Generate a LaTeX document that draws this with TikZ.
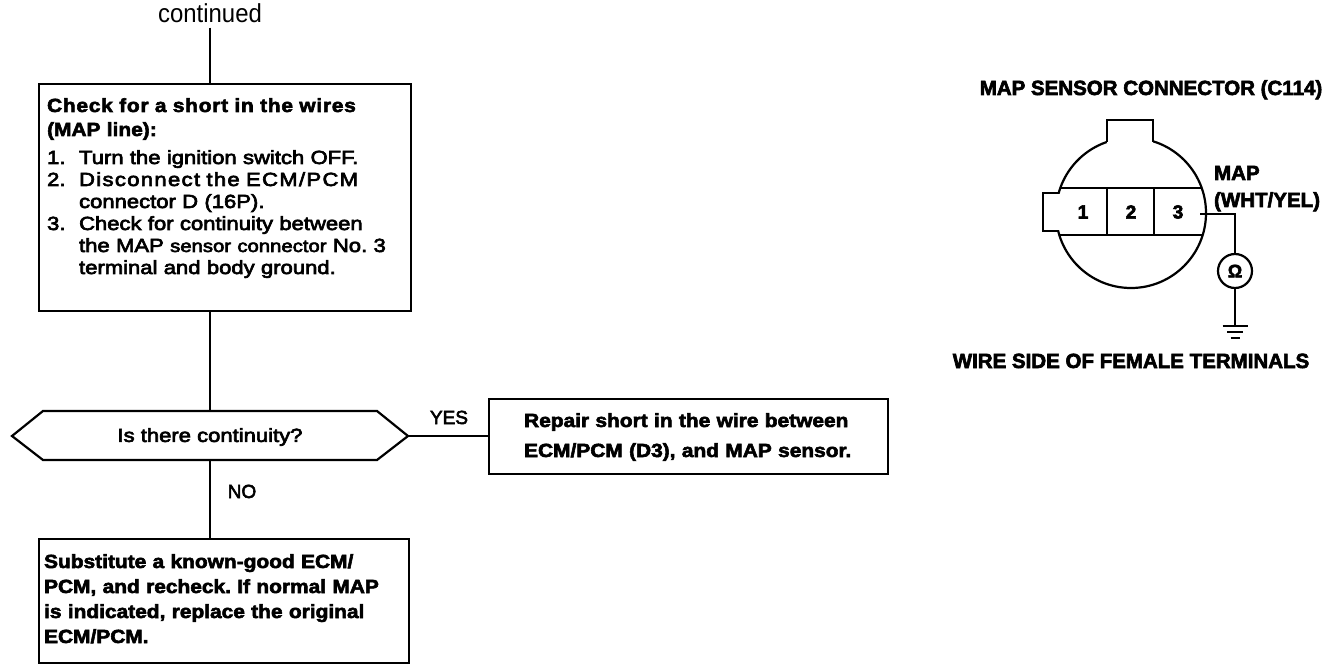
\documentclass[tikz,border=0pt]{standalone}
\usepackage{fontspec}
\setmainfont{Liberation Sans}
\newfontfamily\bbfont[FakeStretch=1.1,FakeBold=3]{Liberation Sans Bold}
\newfontfamily\mdfont[FakeStretch=1.16,FakeBold=3.5]{Liberation Sans}
\newfontfamily\ctfont[FakeStretch=0.92]{Liberation Sans}
\newfontfamily\lbfont[FakeBold=3]{Liberation Sans}
\newfontfamily\tbfont[FakeBold=3]{Liberation Sans Bold}
\usetikzlibrary{calc}
\begin{document}
\frenchspacing
\begin{tikzpicture}[x=1pt,y=-1pt,line width=2.2pt,
  boxst/.style={draw, inner sep=0pt, anchor=north west},
  txt/.style={inner sep=0pt, align=left, anchor=base west},
  bigbold/.style={font=\tbfont\fontsize{20.5}{24}\selectfont, inner sep=0pt},
  ynst/.style={font=\lbfont\fontsize{19}{22}\selectfont, inner sep=0pt},
]
\useasboundingbox (0,0) rectangle (1344,668);
\fill[white] (0,0) rectangle (1344,668);

% continued
\node[font=\ctfont\fontsize{26}{30}\selectfont, anchor=base] (cont) at (210,23) {continued};

% box 1
\node[boxst, minimum width=372pt, minimum height=227pt] (b1) at (38,83) {};
\node[txt, text width=335pt, font=\mdfont\fontsize{19}{22}\selectfont] (t1) at (46,112) {%
{\bbfont\addfontfeature{LetterSpace=4}\makebox[330pt][s]{Check for a short in the wires}}\\[2pt]
{\bbfont (MAP line):}\\[6pt]
\makebox[32pt][l]{1.}Turn the ignition switch OFF.\\
\makebox[32pt][l]{2.}{\addfontfeature{LetterSpace=7}\makebox[297pt][s]{Disconnect the ECM/PCM}}\\
\hspace*{32pt}connector D (16P).\\
\makebox[32pt][l]{3.}\makebox[297pt][s]{Check for continuity between}\\
\hspace*{32pt}\makebox[297pt][s]{the MAP {\fontsize{17.5}{22}\selectfont sensor connector} No. 3}\\
\hspace*{32pt}terminal and body ground.};

% decision
\node[font=\mdfont\fontsize{19}{22}\selectfont, inner sep=0pt] (q) at (210,437) {Is there continuity?};
\coordinate (hT) at ($(q)+(0,-26)$);
\coordinate (hB) at ($(q)+(0,23)$);
\coordinate (hR) at ($(q)+(198,-1)$);
\coordinate (hL) at ($(q)+(-198,-1)$);
\draw (hL) -- ($(q)+(-167,-26)$) -- ($(q)+(167,-26)$) -- (hR) -- ($(q)+(167,23)$) -- ($(q)+(-167,23)$) -- cycle;

% box 2
\node[boxst, minimum width=399pt, minimum height=75pt] (b2) at (488,398) {};
\node[txt, text width=345pt, font=\bbfont\fontsize{19}{30}\selectfont] (t2) at (523,427) {Repair short in the wire between\\ECM/PCM (D3), and MAP sensor.};

% box 3
\node[boxst, minimum width=370pt, minimum height=124pt] (b3) at (38,538) {};
\node[txt, text width=335pt, font=\bbfont\fontsize{19}{25}\selectfont] (t3) at (43,568) {%
\makebox[330pt][s]{Substitute a known-good ECM/}\\
\makebox[330pt][s]{PCM, and recheck. If normal MAP}\\
\makebox[330pt][s]{is indicated, replace the original}\\
ECM/PCM.};

% labels
\node[ynst, anchor=base] (yes) at (449,424) {YES};
\node[ynst, anchor=base] (no) at (242,498) {NO};

% connectors
\draw (cont.south) -- (cont.south |- b1.north);
\draw (cont |- b1.south) -- (hT);
\draw (hR) -- (b2.west |- hR);
\draw (hB) -- (cont |- b3.north);

% MAP sensor connector
\node[bigbold, anchor=base] (title) at (1151,95) {MAP SENSOR CONNECTOR (C114)};
\coordinate (cc) at (1131,213);
\draw (cc) circle[radius=75];
\fill[white] (1107,117) rectangle (1153,143.5);
\draw (1107,142.3) -- (1107,120) -- (1153,120) -- (1153,142.3);
\fill[white] (1044,194.2) rectangle (1063,229.8);
\draw (1058.9,193) -- (1043,193) -- (1043,231) -- (1058.4,231);
\draw (1060.3,188) -- (1201.7,188);
\draw (1059.3,235) -- (1202.7,235);
\draw (1107,188) -- (1107,235);
\draw (1154,188) -- (1154,235);
\node[bigbold, font=\tbfont\fontsize{19}{22}\selectfont] (n1) at (1083,212) {1};
\node[bigbold, font=\tbfont\fontsize{19}{22}\selectfont] (n2) at (1131,212) {2};
\node[bigbold, font=\tbfont\fontsize{19}{22}\selectfont] (n3) at (1178,212) {3};
\coordinate (w0) at (1200,214);
\node[draw, circle, minimum size=34pt, inner sep=0pt, font=\tbfont\fontsize{18}{20}\selectfont] (ohm) at (1235,271) {Ω};
\draw (w0) -- (ohm.north |- w0) -- (ohm.north);
\draw (ohm.south) -- ++(0,37) coordinate (g);
\draw ($(g)+(-12.5,0)$) -- ($(g)+(12.5,0)$);
\draw ($(g)+(-8,6)$) -- ($(g)+(8,6)$);
\draw ($(g)+(-4.5,12)$) -- ($(g)+(4.5,12)$);
\node[bigbold, anchor=base west] (map) at (1213,180) {MAP};
\node[bigbold, anchor=base west] (wht) at (1213,207) {(WHT/YEL)};
\node[bigbold, anchor=base] (wire) at (1131,368) {WIRE SIDE OF FEMALE TERMINALS};
\end{tikzpicture}
\end{document}
